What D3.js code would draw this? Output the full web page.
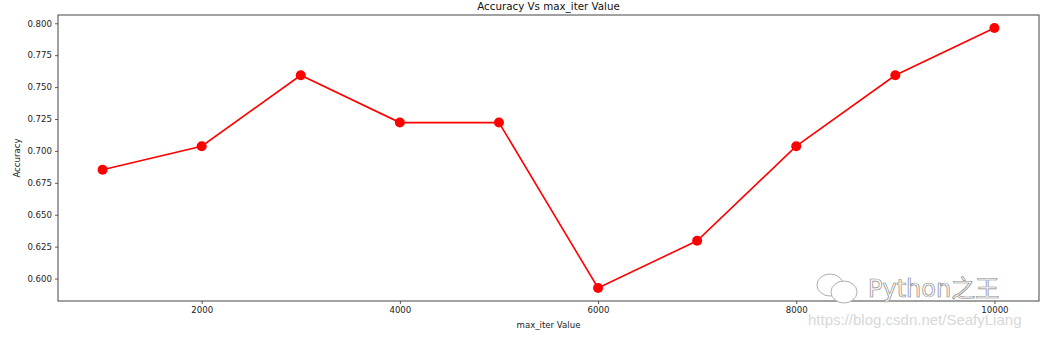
<!DOCTYPE html>
<html>
<head>
<meta charset="utf-8">
<script src="https://cdn.jsdelivr.net/npm/d3@7"></script>
<style>
  body { margin: 0; background: #fff; }
  svg { display: block; font-family: "DejaVu Sans", sans-serif; }
</style>
</head>
<body>
<div id="chart"></div>
<script>
const maxIter = [1000, 2000, 3000, 4000, 5000, 6000, 7000, 8000, 9000, 10000];
const accuracy = [0.6852, 0.7037, 0.7593, 0.7222, 0.7222, 0.5926, 0.6296, 0.7037, 0.7593, 0.7963];
const xTicks = [2000, 4000, 6000, 8000, 10000];
const yTicks = [0.600, 0.625, 0.650, 0.675, 0.700, 0.725, 0.750, 0.775, 0.800];

const W = 1041, H = 337;
const margin = { top: 15, right: 2, bottom: 36, left: 58 };
const width = W - margin.left - margin.right;
const height = H - margin.top - margin.bottom;

const svg = d3.select('#chart').append('svg')
  .attr('width', W).attr('height', H);

const g = svg.append('g')
  .attr('transform', `translate(${margin.left},${margin.top})`);

// matplotlib style 5% margins
const xPad = (d3.max(maxIter) - d3.min(maxIter)) * 0.05;
const yPad = (d3.max(accuracy) - d3.min(accuracy)) * 0.05;

const x = d3.scaleLinear()
  .domain([d3.min(maxIter) - xPad, d3.max(maxIter) + xPad])
  .range([0, width]);

const y = d3.scaleLinear()
  .domain([d3.min(accuracy) - yPad, d3.max(accuracy) + yPad])
  .range([height, 0]);

const xAxis = g.append('g')
  .attr('transform', `translate(0,${height})`)
  .call(d3.axisBottom(x).tickValues(xTicks).tickFormat(d3.format('d')).tickSize(3).tickPadding(3));

const yAxis = g.append('g')
  .call(d3.axisLeft(y).tickValues(yTicks).tickFormat(d3.format('.3f')).tickSize(3).tickPadding(3));

[xAxis, yAxis].forEach(a => {
  a.select('.domain').remove();
  a.selectAll('.tick line').attr('stroke', '#333').attr('stroke-width', 0.8);
  a.selectAll('.tick text').attr('fill', '#222').style('font-size', '8.6px')
    .style('font-family', '"DejaVu Sans", sans-serif');
});

// frame
g.append('rect')
  .attr('x', 0).attr('y', 0)
  .attr('width', width).attr('height', height)
  .attr('fill', 'none')
  .attr('stroke', '#444')
  .attr('stroke-width', 1);

const line = d3.line()
  .x((d, i) => x(maxIter[i]))
  .y(d => y(d));

g.append('path')
  .datum(accuracy)
  .attr('d', line)
  .attr('fill', 'none')
  .attr('stroke', '#ff0000')
  .attr('stroke-width', 1.6);

g.selectAll('circle.pt')
  .data(accuracy)
  .enter()
  .append('circle')
  .attr('class', 'pt')
  .attr('cx', (d, i) => x(maxIter[i]))
  .attr('cy', d => y(d))
  .attr('r', 5)
  .attr('fill', '#ff0000');

// titles
svg.append('text')
  .attr('x', margin.left + width / 2)
  .attr('y', 10)
  .attr('text-anchor', 'middle')
  .style('font-size', '10.3px')
  .attr('fill', '#111')
  .text('Accuracy Vs max_iter Value');

svg.append('text')
  .attr('x', margin.left + width / 2)
  .attr('y', 328)
  .attr('text-anchor', 'middle')
  .style('font-size', '8.6px')
  .attr('fill', '#222')
  .text('max_iter Value');

svg.append('text')
  .attr('transform', `translate(20,${margin.top + height / 2}) rotate(-90)`)
  .attr('text-anchor', 'middle')
  .style('font-size', '8.6px')
  .attr('fill', '#222')
  .text('Accuracy');

// watermark
const wm = svg.append('g').attr('fill', '#fff').attr('stroke', '#999').attr('stroke-width', 0.8);
wm.append('ellipse').attr('cx', 830).attr('cy', 285).attr('rx', 13).attr('ry', 11);
wm.append('ellipse').attr('cx', 844).attr('cy', 292).attr('rx', 13).attr('ry', 11);

svg.append('text')
  .attr('x', 868)
  .attr('y', 297)
  .style('font-size', '24px')
  .style('font-family', '"DejaVu Sans", "Noto Sans CJK SC", sans-serif')
  .attr('fill', '#fff')
  .attr('stroke', '#888')
  .attr('stroke-width', 0.7)
  .text('Python之王');

svg.append('text')
  .attr('x', 808)
  .attr('y', 325)
  .style('font-size', '15px')
  .style('font-family', '"Liberation Sans", Arial, sans-serif')
  .attr('fill', '#d8d8d8')
  .text('https://blog.csdn.net/SeafyLiang');
</script>
</body>
</html>
